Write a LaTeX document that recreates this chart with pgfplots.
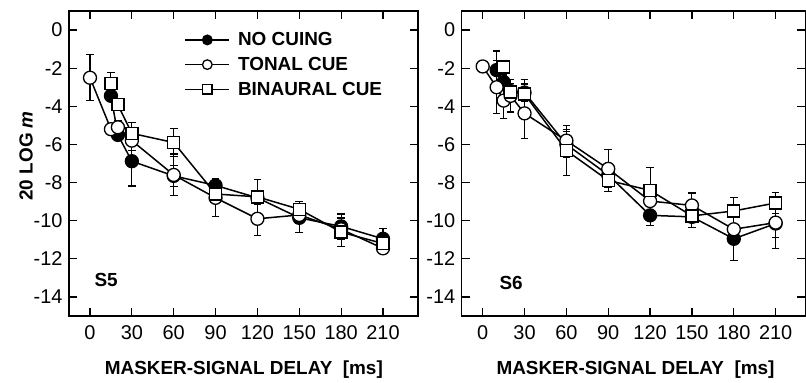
\documentclass[border=0pt]{standalone}
\usepackage{fontspec}
\setmainfont{Liberation Sans}
\usepackage{pgfplots}
\usepackage{pgfplotstable}
\pgfplotsset{compat=1.18}

% S5
\pgfplotstableread{
x y e
15 -3.45 0.25
20 -5.50 0.30
30 -6.88 1.30
60 -7.65 0.55
90 -8.15 0.25
120 -8.80 0.35
150 -9.85 0.75
180 -10.30 0.65
210 -10.95 0.55
}\snone
\pgfplotstableread{
x y e
0 -2.50 1.20
15 -5.20 0.30
20 -5.10 0.35
30 -5.80 0.50
60 -7.60 1.10
90 -8.80 1.00
120 -9.90 0.90
150 -9.70 0.45
180 -10.45 0.55
210 -11.45 0.25
}\sntone
\pgfplotstableread{
x y e
15 -2.80 0.57
20 -3.92 0.30
30 -5.42 0.58
60 -5.90 0.75
90 -8.60 0.30
120 -8.75 0.90
150 -9.40 0.40
180 -10.60 0.75
210 -11.20 0.40
}\snbin
% S6
\pgfplotstableread{
x y e
10 -2.10 1.00
15 -2.73 0.40
20 -3.20 0.40
30 -3.28 0.45
60 -6.00 0.70
90 -7.60 0.50
120 -9.72 0.55
150 -9.80 0.55
180 -10.95 1.15
210 -10.15 0.75
}\ssnone
\pgfplotstableread{
x y e
0 -1.91 0.20
10 -3.00 1.40
15 -3.70 0.95
20 -3.45 0.85
30 -4.37 1.30
60 -5.80 0.60
90 -7.28 1.00
120 -8.97 0.50
150 -9.20 0.65
180 -10.45 0.60
210 -10.10 1.35
}\sstone
\pgfplotstableread{
x y e
15 -1.93 0.30
20 -3.25 0.45
30 -3.36 0.78
60 -6.32 1.30
90 -7.89 0.60
120 -8.41 1.22
150 -9.75 0.60
180 -9.49 0.70
210 -9.07 0.57
}\ssbin

\pgfplotsset{
 myax/.style={
  scale only axis, height=305bp,
  ymin=-15, ymax=1, xmin=-15.05,
  xtick={0,30,...,210}, ytick={0,-2,...,-14},
  tick align=inside, major tick length=8bp,
  axis line style={line width=1.4bp},
  tick style={line width=1.2bp, black},
  tick label style={font=\fontsize{20}{23}\selectfont},
  xticklabel style={yshift=-6bp},
  yticklabel style={xshift=-3bp},
  /pgf/number format/assume math mode=true,
  xlabel style={font=\fontsize{19}{22}\selectfont\bfseries, anchor=center},
  ylabel style={font=\fontsize{19}{22}\selectfont\bfseries, anchor=center},
  xlabel={MASKER-SIGNAL DELAY\ \ [ms]},
  legend image code/.code={\draw[##1, line width=1.5bp, mark size=4.8bp, mark repeat=2, mark phase=2] plot coordinates {(0bp,0bp)(22bp,0bp)(44bp,0bp)};},
  error bars/y dir=both, error bars/y explicit,
  error bars/error bar style={line width=1.1bp, solid, black},
  error bars/error mark options={rotate=90, mark size=3.8bp, line width=1.1bp, black},
 },
 sfill/.style={black, line width=1.5bp, mark=*, mark size=6.5bp, mark options={fill=black, draw=black, line width=1.3bp}},
 sopen/.style={black, line width=1.5bp, mark=*, mark size=6.5bp, mark options={fill=white, draw=black, line width=1.3bp}},
 ssq/.style={black, line width=1.5bp, mark=square*, mark size=6bp, mark options={fill=white, draw=black, line width=1.3bp}},
}

\begin{document}
\begin{tikzpicture}
\useasboundingbox (0bp,0bp) rectangle (806bp,383bp);
\begin{axis}[myax, at={(69bp,67bp)}, anchor=south west, width=349bp, xmax=235.1,
  ylabel={20 LOG \textit{m}},
  ylabel style={at={(axis description cs:-0.123,0.525)}},
  xlabel style={at={(axis description cs:0.501,-0.177)}},
  legend style={draw=none, fill=none, at={(rel axis cs:0.322,0.943)}, anchor=north west,
    font=\fontsize{19}{23}\selectfont\bfseries, row sep=6bp, column sep=6bp, legend cell align=left},
]
\addplot[sfill] table[x=x,y=y,y error=e] {\snone};
\addplot[sopen] table[x=x,y=y,y error=e] {\sntone};
\addplot[ssq] table[x=x,y=y,y error=e] {\snbin};
\legend{NO CUING, TONAL CUE, BINAURAL CUE}
\node[anchor=west, font=\fontsize{19}{22}\selectfont\bfseries] at (rel axis cs:0.063,0.118) {S5};
\end{axis}
\begin{axis}[myax, at={(461.7bp,67bp)}, anchor=south west, width=343.5bp, xmax=231.2,
  xlabel style={at={(axis description cs:0.506,-0.177)}},
]
\addplot[sfill] table[x=x,y=y,y error=e] {\ssnone};
\addplot[sopen] table[x=x,y=y,y error=e] {\sstone};
\addplot[ssq] table[x=x,y=y,y error=e] {\ssbin};
\node[anchor=west, font=\fontsize{19}{22}\selectfont\bfseries] at (rel axis cs:0.1,0.108) {S6};
\end{axis}
\end{tikzpicture}
\end{document}
